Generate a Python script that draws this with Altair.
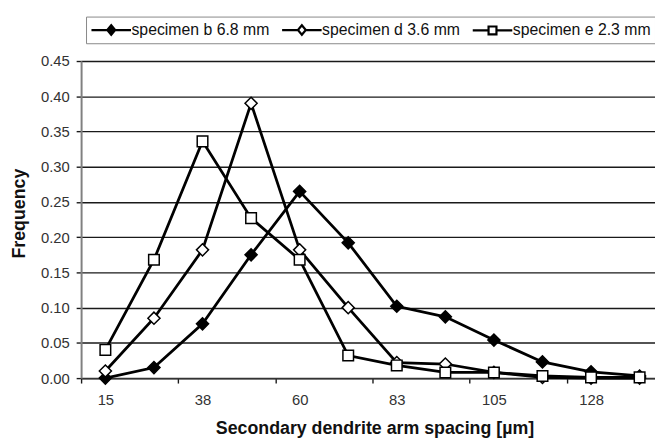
import altair as alt
import pandas as pd

# ---- data ----
categories = ['15', '26', '38', '49', '60', '72', '83', '94', '105', '117', '128', '139']
series_names = ['specimen b 6.8 mm', 'specimen d 3.6 mm', 'specimen e 2.3 mm']
spec_b = [0.000, 0.015, 0.077, 0.175, 0.265, 0.192, 0.102, 0.087, 0.054, 0.023, 0.009, 0.003]
spec_d = [0.010, 0.085, 0.182, 0.390, 0.182, 0.100, 0.022, 0.020, 0.008, 0.001, 0.000, 0.000]
spec_e = [0.040, 0.168, 0.336, 0.227, 0.168, 0.032, 0.018, 0.008, 0.008, 0.003, 0.001, 0.001]
y_ticks = [0.0, 0.05, 0.10, 0.15, 0.20, 0.25, 0.30, 0.35, 0.40, 0.45]

rows = []
for name, vals in zip(series_names, [spec_b, spec_d, spec_e]):
    for i, (c, v) in enumerate(zip(categories, vals)):
        rows.append({'idx': i, 'cat': c, 'series': name, 'value': v})
df = pd.DataFrame(rows)

n = len(categories)
label_js = "[" + ",".join("'%s'" % c for c in categories) + "]"
shown_idx = list(range(0, n, 2))
tick_bounds = [i - 0.5 for i in range(0, n, 2)]

# layout: full category axis would be 590px for 12 categories; reference is cut at 581px
PLOT_W, PLOT_H = 581, 321
FULL_W = 590.0
x_max = -0.5 + PLOT_W / (FULL_W / n)

xscale = alt.Scale(domain=[-0.5, x_max], nice=False, zero=False)
yscale = alt.Scale(domain=[0, 0.45], nice=False, zero=True)

FONT = 'Liberation Sans'
GRID = '#1a1a1a'

y_axis = alt.Axis(
    orient='left',
    values=y_ticks, format='.2f', grid=True, gridColor=GRID, gridWidth=1.4,
    tickColor=GRID, tickWidth=1.4, tickSize=5, domainColor='#808080', domainWidth=2,
    labelFont=FONT, labelFontSize=15, labelColor='#333333', labelPadding=7,
    title='Frequency', titleFont=FONT, titleFontSize=18, titleFontWeight='bold',
    titleColor='#111111', titleX=-57, titleY=154, titleBaseline='alphabetic',
)

tick_axis = alt.Axis(orient='bottom', values=tick_bounds, labels=False, ticks=True, tickSize=5,
                     tickColor=GRID, tickWidth=1.4, domain=True, domainColor='#333333',
                     domainWidth=1.6, grid=False, title=None)

label_axis = alt.Axis(orient='bottom', values=shown_idx, labelExpr=label_js + "[datum.value]",
                      ticks=False, tickSize=0, domain=False, grid=False,
                      labelFont=FONT, labelFontSize=15, labelColor='#333333',
                      labelPadding=15,
                      title='Secondary dendrite arm spacing [µm]', titleFont=FONT,
                      titleFontSize=18, titleFontWeight='bold', titleColor='#111111',
                      titleX=297, titleY=56, titleBaseline='alphabetic')

base = alt.Chart(df)

lines = base.mark_line(color='black', strokeWidth=2.8).encode(
    x=alt.X('idx:Q', scale=xscale, axis=tick_axis),
    y=alt.Y('value:Q', scale=yscale, axis=y_axis),
    detail='series:N',
)

marker_shapes = ['diamond', 'diamond', 'square']
marker_fills = ['black', 'white', 'white']
marker_sizes = [150, 150, 115]

point_layers = []
for k, name in enumerate(series_names):
    p = base.transform_filter(alt.datum.series == name).mark_point(
        shape=marker_shapes[k], filled=True, fill=marker_fills[k], stroke='black',
        strokeWidth=1.5, size=marker_sizes[k], opacity=1,
    ).encode(
        x=alt.X('idx:Q', scale=xscale, axis=label_axis if k == 0 else None),
        y=alt.Y('value:Q', scale=yscale, axis=y_axis),
    )
    point_layers.append(p)

# legend symbols: line + marker (the filled diamond is drawn with nested strokes)
PATH_B = ("M-2.5,0H2.5M0,-0.6L0.5,0L0,0.6L-0.5,0Z"
          "M0,-0.3L0.25,0L0,0.3L-0.25,0ZM0,-0.6V0.6")
PATH_D = "M-2.5,0H-0.5M0.5,0H2.5M0,-0.6L0.5,0L0,0.6L-0.5,0Z"
PATH_E = "M-2.5,0H-0.5M0.5,0H2.5M-0.5,-0.5H0.5V0.5H-0.5Z"

legend = alt.Legend(
    title=None, orient='none', legendX=5, legendY=-45, direction='horizontal',
    symbolSize=256, symbolOffset=12, labelOffset=11, symbolStrokeWidth=2.2,
    symbolOpacity=1,
    labelFont=FONT, labelFontSize=16, labelColor='#111111',
    strokeColor='#888888', padding=4, columnPadding=8,
)

# this layer only feeds the legend; its own marks are shifted out of the clipped view
legend_layer = base.mark_point(filled=True, fill='white', stroke='black', strokeWidth=2.2,
                               clip=True, yOffset=5000).encode(
    x=alt.X('idx:Q', scale=xscale, axis=None),
    y=alt.Y('value:Q', scale=yscale, axis=y_axis),
    shape=alt.Shape('series:N', scale=alt.Scale(domain=series_names, range=[PATH_B, PATH_D, PATH_E]),
                    legend=legend),
)

chart = alt.layer(lines, *point_layers, legend_layer).resolve_axis(x='independent').properties(
    width=PLOT_W, height=PLOT_H,
    autosize=alt.AutoSizeParams(type='none'),
    padding={'left': 74, 'top': 51, 'right': 0, 'bottom': 61},
    background='white',
).configure_view(stroke=None)

chart.save("out.html", embed_options={"renderer": "svg", "actions": False})
